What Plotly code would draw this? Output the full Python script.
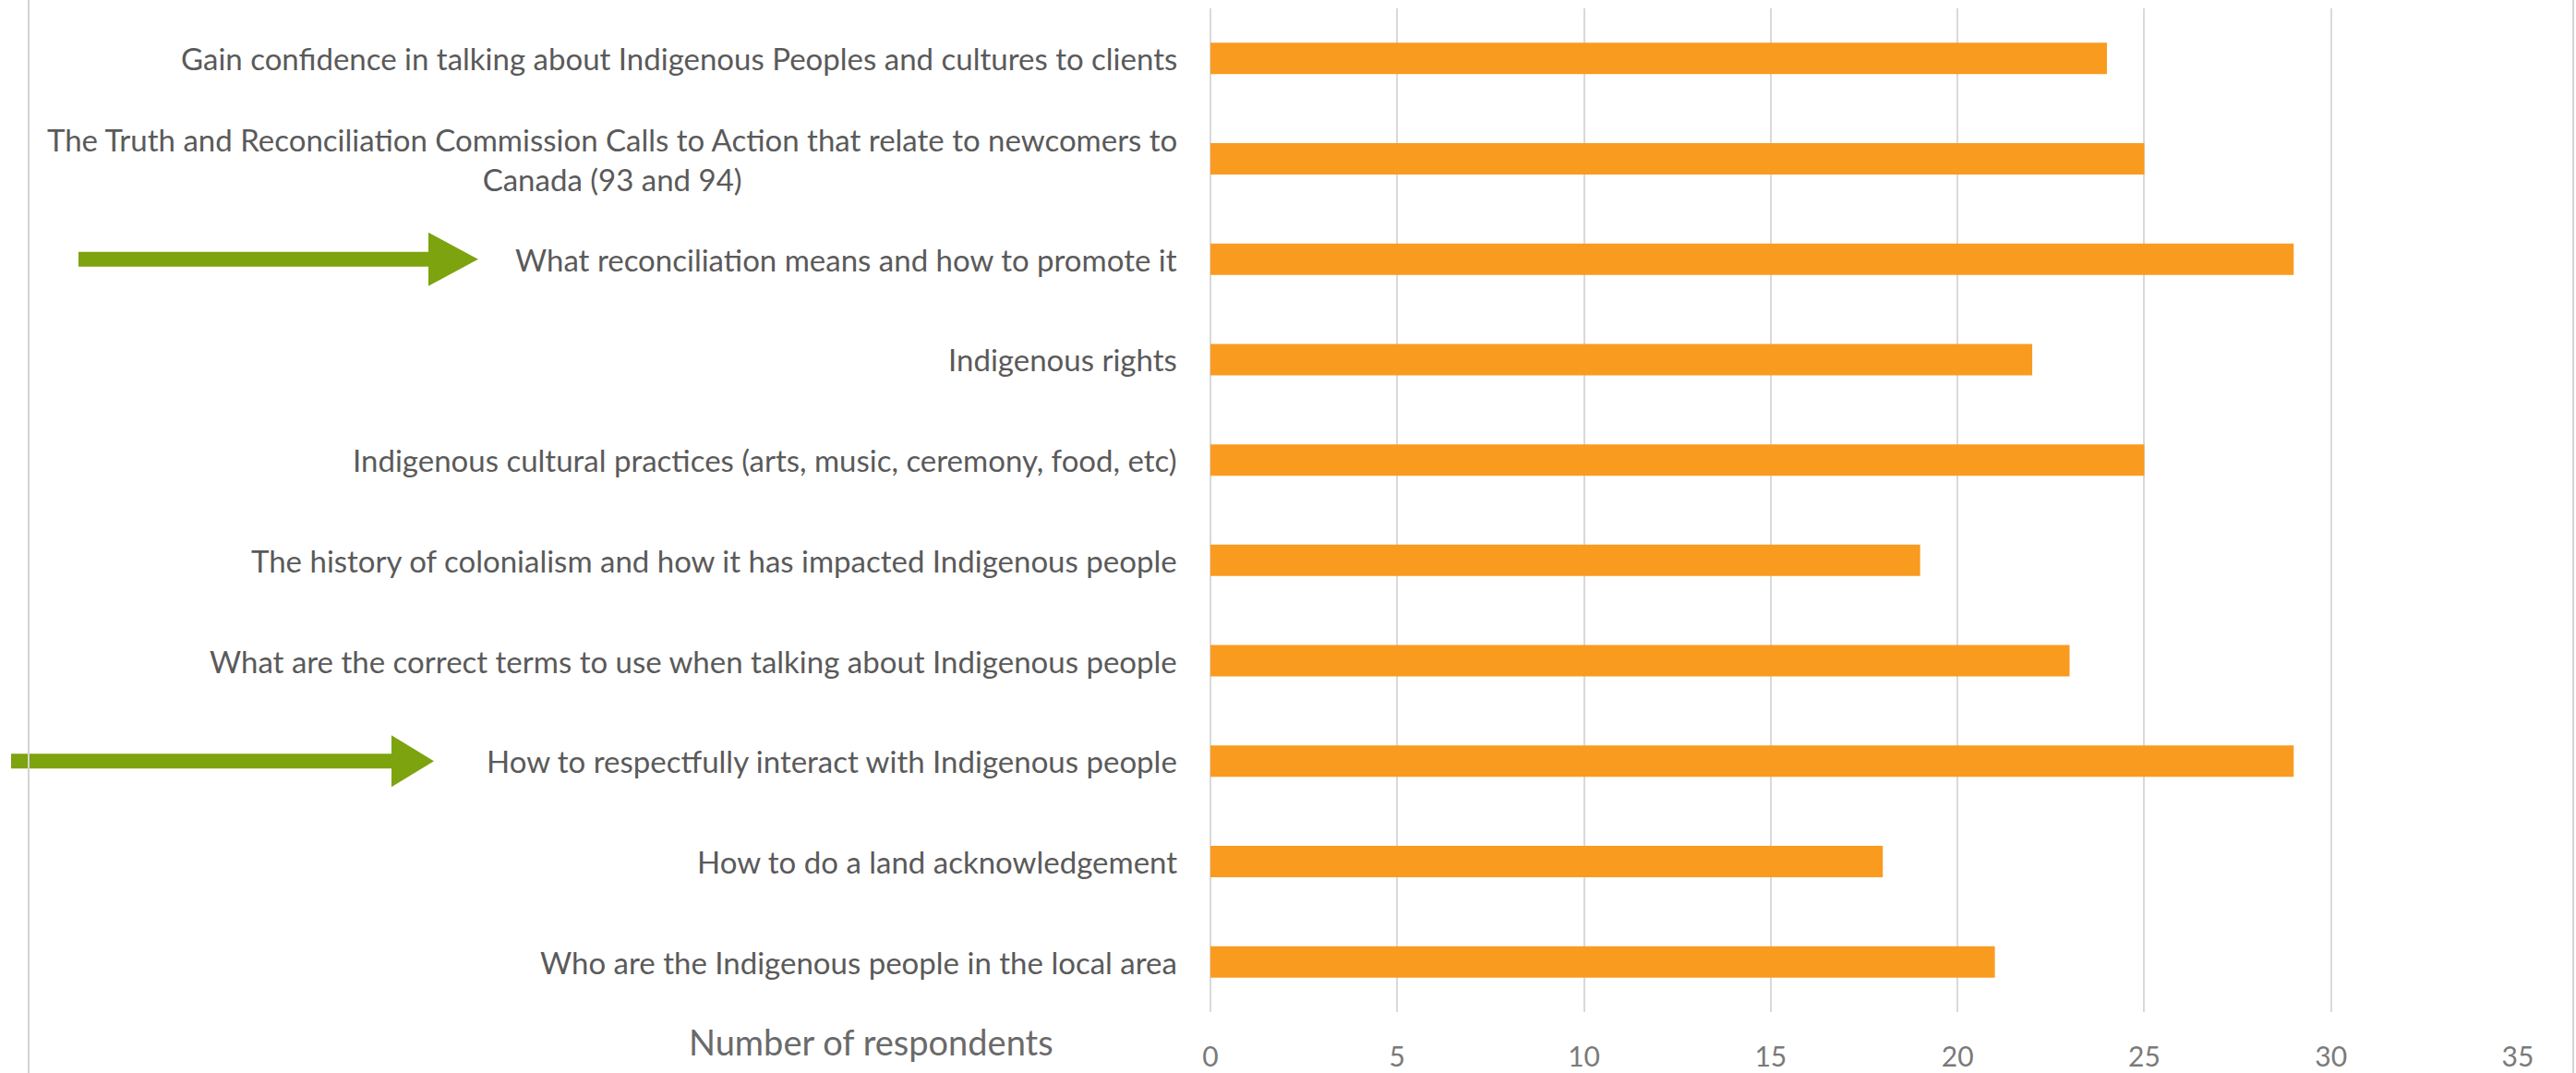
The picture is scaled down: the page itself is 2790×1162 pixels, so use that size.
import plotly.graph_objects as go

# ---------------- data ----------------
categories = [
    "Gain confidence in talking about Indigenous Peoples and cultures to clients",
    "The Truth and Reconciliation Commission Calls to Action that relate to newcomers to<br>Canada (93 and 94)",
    "What reconciliation means and how to promote it",
    "Indigenous rights",
    "Indigenous cultural practices (arts, music, ceremony, food, etc)",
    "The history of colonialism and how it has impacted Indigenous people",
    "What are the correct terms to use when talking about Indigenous people",
    "How to respectfully interact with Indigenous people",
    "How to do a land acknowledgement",
    "Who are the Indigenous people in the local area",
]
respondents = [24, 25, 29, 22, 25, 19, 23, 29, 18, 21]
x_ticks = [0, 5, 10, 15, 20, 25, 30, 35]
x_title = "Number of respondents"
highlighted = [categories[2], categories[7]]

# ---------------- layout geometry ----------------
W, H = 2790, 1162
ML, MR, MT, MB = 1311, 63, 9, 66
PW = W - ML - MR
PH = H - MT - MB
N = len(categories)


def px_x(px):
    return (px - ML) / PW


def px_y(py):
    return (H - MB - py) / PH


def cat_center_py(i):
    return MT + (i + 0.5) * PH / N


BAR = "#F99B1F"
GRID = "#D9D9D9"
LABEL = "#5a5a5a"
GREEN = "#7DA30F"

fig = go.Figure()
fig.add_trace(go.Bar(
    x=respondents,
    y=categories,
    orientation="h",
    marker=dict(color=BAR, line=dict(width=0)),
    hoverinfo="x+y",
))

annotations = []
for c in categories:
    annotations.append(dict(
        x=0, xref="paper", xanchor="right", xshift=-34,
        y=c, yref="y", yanchor="middle",
        text=c, showarrow=False, align="center",
        font=dict(family="Lato", size=33, color=LABEL),
    ))
annotations.append(dict(
    x=px_x(943), xref="paper", xanchor="center",
    y=px_y(1128), yref="paper", yanchor="middle",
    text=x_title, showarrow=False,
    font=dict(family="Lato", size=38, color="#6a6a6a"),
))

shapes = []
arrow_geom = [  # (start px, head base px, tip px, shaft half px, head half px)
    (85, 464, 518, 8, 29),
    (12, 424, 470, 8, 28),
]
for cat, (x0, xh, xt, th, hh) in zip(highlighted, arrow_geom):
    cy = cat_center_py(categories.index(cat))
    pts = [(x0, cy - th), (xh, cy - th), (xh, cy - hh), (xt, cy),
           (xh, cy + hh), (xh, cy + th), (x0, cy + th)]
    path = "M " + " L ".join(f"{px_x(a):.5f},{px_y(b):.5f}" for a, b in pts) + " Z"
    shapes.append(dict(type="path", xref="paper", yref="paper", path=path,
                       fillcolor=GREEN, line=dict(width=0), layer="above"))

for bx in (31, 2787):
    shapes.append(dict(type="line", xref="paper", yref="paper",
                       x0=px_x(bx), x1=px_x(bx), y0=px_y(0), y1=px_y(H),
                       line=dict(color="#D4D4D4", width=2)))

fig.update_layout(
    width=W, height=H, autosize=False,
    margin=dict(l=ML, r=MR, t=MT, b=MB, pad=0),
    paper_bgcolor="white", plot_bgcolor="white",
    showlegend=False,
    bargap=0.687,
    annotations=annotations,
    shapes=shapes,
    xaxis=dict(
        range=[0, 35], tickvals=x_ticks, ticktext=[str(t) for t in x_ticks],
        showgrid=True, gridcolor=GRID, gridwidth=2,
        zeroline=True, zerolinecolor=GRID, zerolinewidth=2,
        showline=False, automargin=False,
        ticks="outside", ticklen=22, tickcolor="rgba(0,0,0,0)",
        tickfont=dict(family="Lato", size=30, color="#7a7a7a"),
        fixedrange=True,
    ),
    yaxis=dict(
        type="category", categoryorder="array", categoryarray=categories,
        range=[N - 0.5, -0.5], automargin=False,
        showticklabels=False, showgrid=False, zeroline=False, showline=False,
        ticks="",
        fixedrange=True,
    ),
)

fig.write_html("out.html")
